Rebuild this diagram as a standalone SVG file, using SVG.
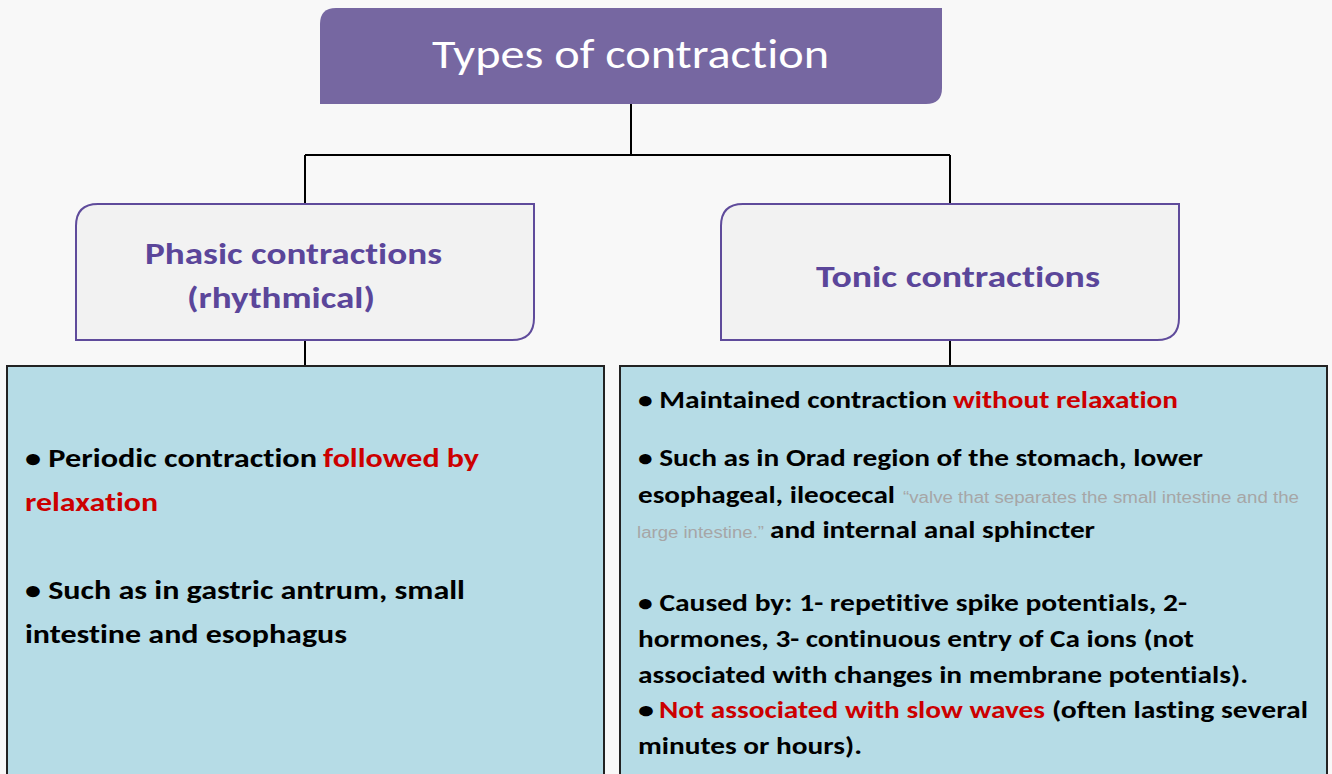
<svg xmlns="http://www.w3.org/2000/svg" width="1332" height="774" viewBox="0 0 1332 774">
  <style>
    text { font-variant-ligatures: none; }
    .bg { fill: #f8f8f8; }
    .root { fill: #7667a1; }
    .cat { fill: #f2f2f2; stroke: #5f4b9b; stroke-width: 2; }
    .info { fill: #b6dce6; stroke: #222; stroke-width: 2; }
    .wire { fill: none; stroke: #000; stroke-width: 2; }
    .title { font-family: Carlito, Lato, "Open Sans", sans-serif; font-size: 42px; fill: #fff; }
    .head { font-family: Carlito, Lato, "Open Sans", sans-serif; font-weight: bold; font-size: 31px; fill: #5b469a; }
    .big { font-family: Carlito, Lato, "Open Sans", sans-serif; font-weight: bold; font-size: 27px; fill: #000; }
    .mid { font-family: Carlito, Lato, "Open Sans", sans-serif; font-weight: bold; font-size: 24px; fill: #000; }
    .red { fill: #cc0000; }
    .note { font-family: "Liberation Sans", Arial, sans-serif; font-size: 16px; fill: #a6a6a6; }
  </style>
  <rect class="bg" x="0" y="0" width="1332" height="774"/>

  <g id="connectors">
    <path class="wire" d="M631 104 V155 M305 155 H950 M305 155 V204 M950 155 V204"/>
    <path class="wire" d="M305 340 V366 M950 340 V366"/>
  </g>

  <g id="types-of-contraction">
    <path class="root" d="M336 8 H942 V88 Q942 104 926 104 H320 V24 Q320 8 336 8 Z"/>
    <text class="title" x="432" y="68" textLength="397" lengthAdjust="spacingAndGlyphs">Types of contraction</text>
  </g>

  <g id="phasic">
    <path class="cat" d="M98 204 H534 V318 Q534 340 512 340 H76 V226 Q76 204 98 204 Z"/>
    <text class="head" x="145" y="264" textLength="297" lengthAdjust="spacingAndGlyphs">Phasic contractions</text>
    <text class="head" x="187" y="308" textLength="188" lengthAdjust="spacingAndGlyphs">(rhythmical)</text>
  </g>

  <g id="tonic">
    <path class="cat" d="M743 204 H1179 V318 Q1179 340 1157 340 H721 V226 Q721 204 743 204 Z"/>
    <text class="head" x="816" y="287" textLength="284" lengthAdjust="spacingAndGlyphs">Tonic contractions</text>
  </g>

  <g id="phasic-details">
    <rect class="info" x="7" y="366" width="597" height="420"/>
    <text class="big" x="25" y="467" textLength="292" lengthAdjust="spacingAndGlyphs">• Periodic contraction</text>
    <text class="big red" x="323" y="467" textLength="156" lengthAdjust="spacingAndGlyphs">followed by</text>
    <text class="big red" x="25" y="511" textLength="133" lengthAdjust="spacingAndGlyphs">relaxation</text>
    <text class="big" x="25" y="599" textLength="440" lengthAdjust="spacingAndGlyphs">• Such as in gastric antrum, small</text>
    <text class="big" x="25" y="643" textLength="322" lengthAdjust="spacingAndGlyphs">intestine and esophagus</text>
  </g>

  <g id="tonic-details">
    <rect class="info" x="620" y="366" width="707" height="420"/>
    <text class="mid" x="638" y="408" textLength="309" lengthAdjust="spacingAndGlyphs">• Maintained contraction</text>
    <text class="mid red" x="953" y="408" textLength="225" lengthAdjust="spacingAndGlyphs">without relaxation</text>
    <text class="mid" x="638" y="466" textLength="565" lengthAdjust="spacingAndGlyphs">• Such as in Orad region of the stomach, lower</text>
    <text class="mid" x="638" y="503" textLength="257" lengthAdjust="spacingAndGlyphs">esophageal, ileocecal</text>
    <text class="note" x="903" y="503" textLength="396" lengthAdjust="spacingAndGlyphs">“valve that separates the small intestine and the</text>
    <text class="note" x="637" y="538" textLength="127" lengthAdjust="spacingAndGlyphs">large intestine.”</text>
    <text class="mid" x="770" y="538" textLength="325" lengthAdjust="spacingAndGlyphs">and internal anal sphincter</text>
    <text class="mid" x="638" y="611" textLength="549" lengthAdjust="spacingAndGlyphs">• Caused by: 1- repetitive spike potentials, 2-</text>
    <text class="mid" x="638" y="647" textLength="556" lengthAdjust="spacingAndGlyphs">hormones, 3- continuous entry of Ca ions (not</text>
    <text class="mid" x="638" y="683" textLength="610" lengthAdjust="spacingAndGlyphs">associated with changes in membrane potentials).</text>
    <text class="mid" x="638" y="718" textLength="16" lengthAdjust="spacingAndGlyphs">•</text>
    <text class="mid red" x="659" y="718" textLength="386" lengthAdjust="spacingAndGlyphs">Not associated with slow waves</text>
    <text class="mid" x="1052" y="718" textLength="256" lengthAdjust="spacingAndGlyphs">(often lasting several</text>
    <text class="mid" x="638" y="754" textLength="224" lengthAdjust="spacingAndGlyphs">minutes or hours).</text>
  </g>
</svg>
